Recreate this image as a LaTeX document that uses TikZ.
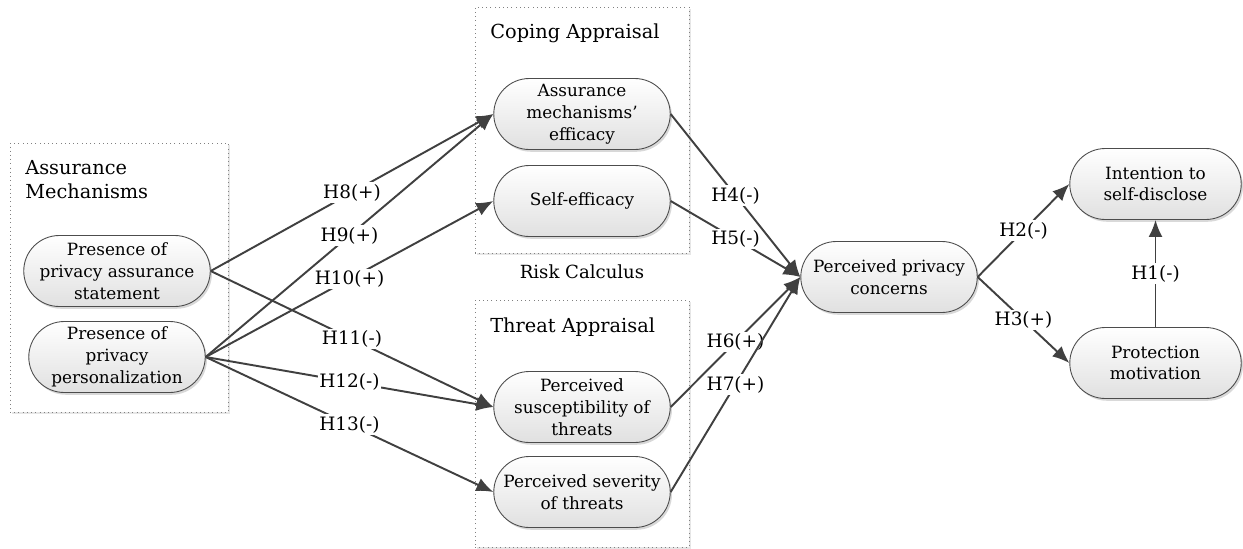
\documentclass[tikz,border=0pt]{standalone}
\usepackage{fontspec}
\setmainfont{DejaVu Serif}
\usetikzlibrary{arrows.meta,shapes.misc,shadows}

\begin{document}
\begin{tikzpicture}[x=0.02cm, y=-0.02cm, every node/.style={font=\fontsize{9.6}{12.4}\selectfont}, >={Latex[length=3.4mm, width=2.8mm]},
	construct/.style={rounded rectangle, draw=black!70, line width=0.5pt, top color=white, bottom color=black!12, minimum width=3.6cm, minimum height=1.42cm, align=center, inner sep=1pt, drop shadow={shadow xshift=1pt, shadow yshift=-1.3pt, opacity=0.3}},
	group/.style={draw=black!50, dotted, fill=white, drop shadow={shadow xshift=1pt, shadow yshift=-1.3pt, opacity=0.2}},
	title/.style={anchor=west, inner sep=0pt, align=left, font=\fontsize{11}{13.6}\selectfont},
	link/.style={->, line width=1.1pt, draw=black!75},
	hyp/.style={fill=white, inner sep=1pt, font=\fontsize{10.5}{12}\selectfont}]
	\useasboundingbox (0,0) rectangle (1243,548);
	\node[group, minimum width=4.36cm, minimum height=5.38cm] (assurbox) at (119,277.5) {};
	\node[group, minimum width=4.28cm, minimum height=4.92cm] (copebox) at (582,130) {};
	\node[group, minimum width=4.28cm, minimum height=4.94cm] (threatbox) at (582,423.5) {};
	\node[title] (assurtitle) at (25,180) {Assurance\\Mechanisms};
	\node[title] (copetitle) at (490,33) {Coping Appraisal};
	\node[title] (threattitle) at (490,327) {Threat Appraisal};
	\node[font=\fontsize{10.3}{12}\selectfont] (riskcalc) at (582,272) {Risk Calculus};
	\node[construct] (stmt) at (117,271) {Presence of\\privacy assurance\\statement};
	\node[construct] (pers) at (117,357) {Presence of\\privacy\\personalization};
	\node[construct] (ame) at (582,114) {Assurance\\mechanisms'\\efficacy};
	\node[construct] (selfeff) at (582,201) {Self-efficacy};
	\node[construct] (suscept) at (582,407) {Perceived\\susceptibility of\\threats};
	\node[construct] (severity) at (582,492) {Perceived severity\\of threats};
	\node[construct] (ppc) at (889,277) {Perceived privacy\\concerns};
	\node[construct, minimum width=3.5cm] (intent) at (1155.5,184) {Intention to\\self-disclose};
	\node[construct, minimum width=3.5cm] (protect) at (1155.5,363) {Protection\\motivation};
	\draw[link] (stmt.east) -- node[hyp] {H8(+)} (ame.west);
	\draw[link] (pers.east) -- node[hyp] {H9(+)} (ame.west);
	\draw[link] (pers.east) -- node[hyp] {H10(+)} (selfeff.west);
	\draw[link] (stmt.east) -- node[hyp] {H11(-)} (suscept.west);
	\draw[link] (pers.east) -- node[hyp] {H12(-)} (suscept.west);
	\draw[link] (pers.east) -- node[hyp] {H13(-)} (severity.west);
	\draw[link] (ame.east) -- node[hyp] {H4(-)} (ppc.west);
	\draw[link] (selfeff.east) -- node[hyp] {H5(-)} (ppc.west);
	\draw[link] (suscept.east) -- node[hyp] {H6(+)} (ppc.west);
	\draw[link] (severity.east) -- node[hyp] {H7(+)} (ppc.west);
	\draw[link] (ppc.east) -- node[hyp] {H2(-)} (intent.west);
	\draw[link] (ppc.east) -- node[hyp] {H3(+)} (protect.west);
	\draw[link] (protect.north) -- node[hyp] {H1(-)} (intent.south);
\end{tikzpicture}
\end{document}
